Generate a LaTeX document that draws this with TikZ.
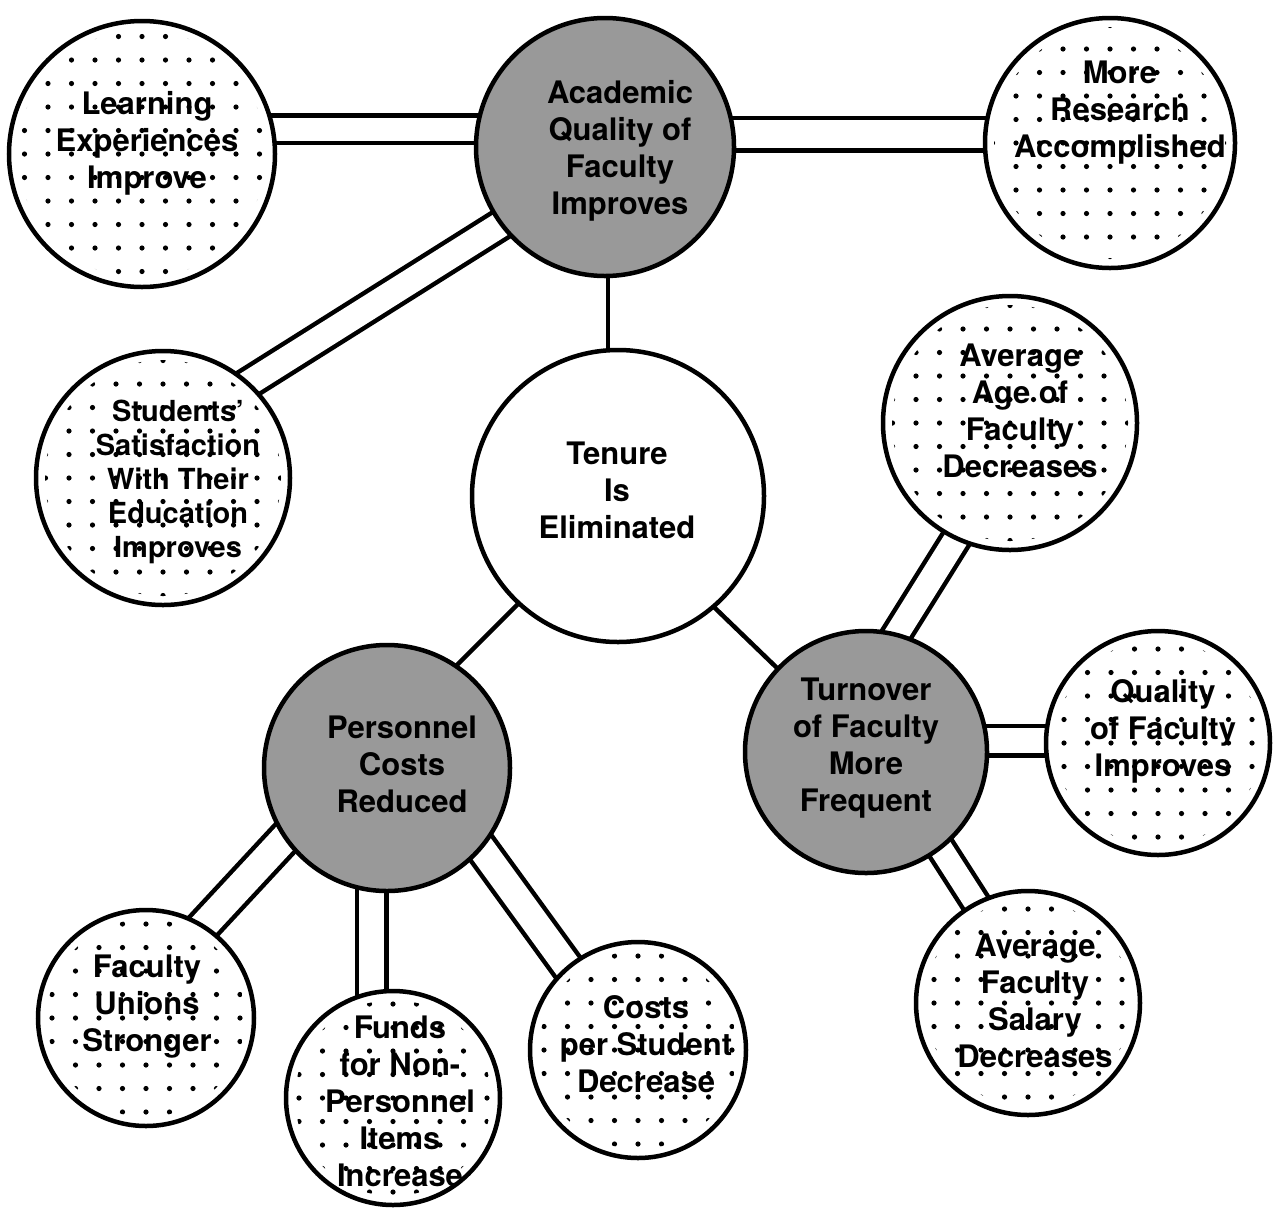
\documentclass[tikz,border=0pt]{standalone}
\usepackage{fontspec}
\setmainfont{TeX Gyre Heros}
\usetikzlibrary{backgrounds}
\newcommand\mydots[2]{%
  \begin{scope}[shift={(#1.center)}]
    \clip (0,0) circle[radius=#2pt-9pt];
    \foreach \i in {-6,...,6}{\foreach \j in {-6,...,6}{
      \fill (\i*23.5,\j*23.5) circle[radius=2.6pt];}}
  \end{scope}}
\begin{document}
\begin{tikzpicture}[x=1pt,y=-1pt,
  circ/.style={circle,draw=black,line width=4.5pt,inner sep=0pt,outer sep=0pt,minimum size=#1},
  dotc/.style={circ=#1,fill=white},
  grayc/.style={circ=#1,fill=black!40},
  plainc/.style={circ=#1,fill=white},
  txt/.style={align=center,font=\fontsize{31}{37}\selectfont\bfseries,inner sep=0pt},
  smalltxt/.style={align=center,font=\fontsize{29}{34}\selectfont\bfseries,inner sep=0pt},
  dbl/.style={line width=4.5pt,double=white,double distance=#1},
  sgl/.style={line width=4.5pt},
]
\useasboundingbox (0,0) rectangle (1274,1211);

% circles
\node[dotc=266pt]  (learn)  at (142,154)  {};
\node[grayc=258pt] (acad)   at (605,147)  {};
\node[dotc=250pt]  (res)    at (1110,143) {};
\node[dotc=254pt]  (stud)   at (163,478)  {};
\node[plainc=292pt](ten)    at (618,496)  {};
\node[dotc=254pt]  (age)    at (1010,423) {};
\node[grayc=246pt] (pers)   at (387,768)  {};
\node[grayc=242pt] (turn)   at (866,752)  {};
\node[dotc=224pt]  (qual)   at (1158,743) {};
\node[dotc=216pt]  (unions) at (146,1018) {};
\node[dotc=214pt]  (funds)  at (393,1098) {};
\node[dotc=216pt]  (costs)  at (638,1050) {};
\node[dotc=224pt]  (sal)    at (1028,1003){};

% dot screens
\mydots{learn}{133}
\mydots{res}{125}
\mydots{stud}{127}
\mydots{age}{127}
\mydots{qual}{112}
\mydots{unions}{108}
\mydots{funds}{107}
\mydots{costs}{108}
\mydots{sal}{112}

% connectors
\begin{pgfonlayer}{background}
\fill[white] (0,0) rectangle (1274,1211);
\draw[dbl=23pt] ([shift={(0,-25)}]learn.center) -- ([shift={(0,-18)}]acad.center);
\draw[dbl=28pt] ([shift={(0,-13)}]acad.center) -- ([shift={(0,-9)}]res.center);
\draw[dbl=25pt] ([shift={(0,-41)}]stud.center) -- ([shift={(0,12)}]acad.center);
\draw[sgl] ([shift={(3,0)}]acad.center) -- ([shift={(-10,0)}]ten.center);
\draw[sgl] ([shift={(8,0)}]ten.center) -- ([shift={(-33,0)}]pers.center);
\draw[sgl] ([shift={(-19,0)}]ten.center) -- ([shift={(-2,0)}]turn.center);
\draw[dbl=28pt] ([shift={(-37,0)}]pers.center) -- ([shift={(-28,0)}]unions.center);
\draw[dbl=25pt] ([shift={(-15.5,0)}]pers.center) -- ([shift={(-21.5,0)}]funds.center);
\draw[dbl=27pt] ([shift={(36,0)}]pers.center) -- ([shift={(-10,0)}]costs.center);
\draw[dbl=24pt] ([shift={(18.5,0)}]age.center) -- ([shift={(-43,0)}]turn.center);
\draw[dbl=25pt] ([shift={(0,-11.5)}]turn.center) -- ([shift={(0,-2.5)}]qual.center);
\draw[dbl=23pt] ([shift={(13,0)}]turn.center) -- ([shift={(12,0)}]sal.center);
\end{pgfonlayer}

% texts
\node[txt] (learnT)  at (147,143)  {Learning\\Experiences\\Improve};
\node[txt] (acadT)   at (620,151)  {Academic\\Quality of\\Faculty\\Improves};
\node[txt] (resT)    at (1120,113) {More\\Research\\Accomplished};
\node[smalltxt] (studT) at (178,482) {Students'\\Satisfaction\\With Their\\Education\\Improves};
\node[txt] (tenT)    at (617,490)  {Tenure\\Is\\Eliminated};
\node[txt] (ageT)    at (1020,411) {Average\\Age of\\Faculty\\Decreases};
\node[txt] (persT)   at (402,764)  {Personnel\\Costs\\Reduced};
\node[txt] (turnT)   at (866,748)  {Turnover\\of Faculty\\More\\Frequent};
\node[txt] (qualT)   at (1163,731) {Quality\\of Faculty\\Improves};
\node[txt] (unionsT) at (147,1007) {Faculty\\Unions\\Stronger};
\node[txt] (fundsT)  at (400,1101) {Funds\\for Non-\\Personnel\\Items\\Increase};
\node[txt] (costsT)  at (646,1044) {Costs\\per Student\\Decrease};
\node[txt] (salT)    at (1035,1001){Average\\Faculty\\Salary\\Decreases};
\end{tikzpicture}
\end{document}
